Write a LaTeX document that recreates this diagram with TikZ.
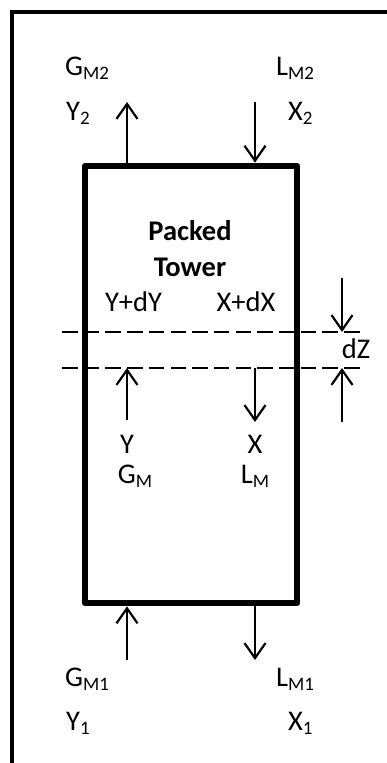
\documentclass[tikz,border=0pt]{standalone}
\usepackage{fontspec}
\setmainfont{Carlito}
\usetikzlibrary{arrows.meta}
\newcommand{\lsub}[1]{\raisebox{-0.17em}{\fontsize{19}{19}\selectfont #1}}
\tikzset{
  lbl/.style={inner sep=0pt, font=\fontsize{28.5}{32}\selectfont},
  flow/.style={line width=2.2pt, -{Straight Barb[length=15pt,width=21pt,line cap=butt]}},
  frame/.style={line width=4pt},
  towerbox/.style={draw, line width=6.8pt, line join=round, inner sep=0pt, minimum width=212pt, minimum height=437pt},
  slice/.style={line width=2.5pt, dash pattern=on 15.5pt off 6.2pt}
}
\begin{document}
\begin{tikzpicture}[x=1pt,y=-1pt]
\useasboundingbox (0,0) rectangle (387,763);
% outer frame (left and top edges)
\coordinate (fbl) at (12,763);
\coordinate (ftl) at (12,12);
\coordinate (ftr) at (387,12);
\draw[frame] (fbl) -- (ftl) -- (ftr);
% tower
\node[towerbox] (tower) at (191,384.5) {};
\node[lbl, font=\fontsize{28.5}{32}\selectfont\bfseries, anchor=base] (packed) at (190,240) {Packed};
\node[lbl, font=\fontsize{28.5}{32}\selectfont\bfseries, anchor=base] (towertxt) at (190,276) {Tower};
% top streams
\coordinate (gtop) at (127,102);
\coordinate (ltop) at (255,102);
\draw[flow] (tower.north -| gtop) -- (gtop);
\draw[flow] (ltop) -- (tower.north -| ltop);
\node[lbl, anchor=base west] (gm2) at (65,75) {G\lsub{M2}};
\node[lbl, anchor=base west] (y2) at (66,120) {Y\lsub{2}};
\node[lbl, anchor=base west] (lm2) at (276,75) {L\lsub{M2}};
\node[lbl, anchor=base west] (x2) at (288,120) {X\lsub{2}};
% slice
\coordinate (sl1) at (62,332);
\coordinate (sr1) at (360,332);
\coordinate (sl2) at (62,368);
\coordinate (sr2) at (360,368);
\draw[slice] (sl1) -- (sr1);
\draw[slice] (sl2) -- (sr2);
\node[lbl, anchor=base] (ydy) at (133.5,311) {Y+dY};
\node[lbl, anchor=base] (xdx) at (246,311) {X+dX};
% slice arrows
\coordinate (ymid) at (127,420);
\coordinate (xmid) at (255,422);
\draw[flow] (ymid) -- (ymid |- sl2);
\draw[flow] (xmid |- sl2) -- (xmid);
\node[lbl, anchor=base] (ylab) at (127,453) {Y};
\node[lbl, anchor=base] (xlab) at (255,453) {X};
\node[lbl, anchor=base] (gm) at (135,483) {G\lsub{M}};
\node[lbl, anchor=base] (lm) at (255,483) {L\lsub{M}};
% dZ
\coordinate (dzt) at (342,278);
\coordinate (dzb) at (342,422);
\draw[flow] (dzt) -- (dzt |- sr1);
\draw[flow] (dzb) -- (dzb |- sr2);
\node[lbl, anchor=base] (dz) at (356,358) {dZ};
% bottom streams
\coordinate (gbot) at (127,660);
\coordinate (lbot) at (255,660);
\draw[flow] (gbot) -- (tower.south -| gbot);
\draw[flow] (tower.south -| lbot) -- (lbot);
\node[lbl, anchor=base west] (gm1) at (65,686) {G\lsub{M1}};
\node[lbl, anchor=base west] (y1) at (66,730) {Y\lsub{1}};
\node[lbl, anchor=base west] (lm1) at (276,686) {L\lsub{M1}};
\node[lbl, anchor=base west] (x1) at (288,730) {X\lsub{1}};
\end{tikzpicture}
\end{document}
